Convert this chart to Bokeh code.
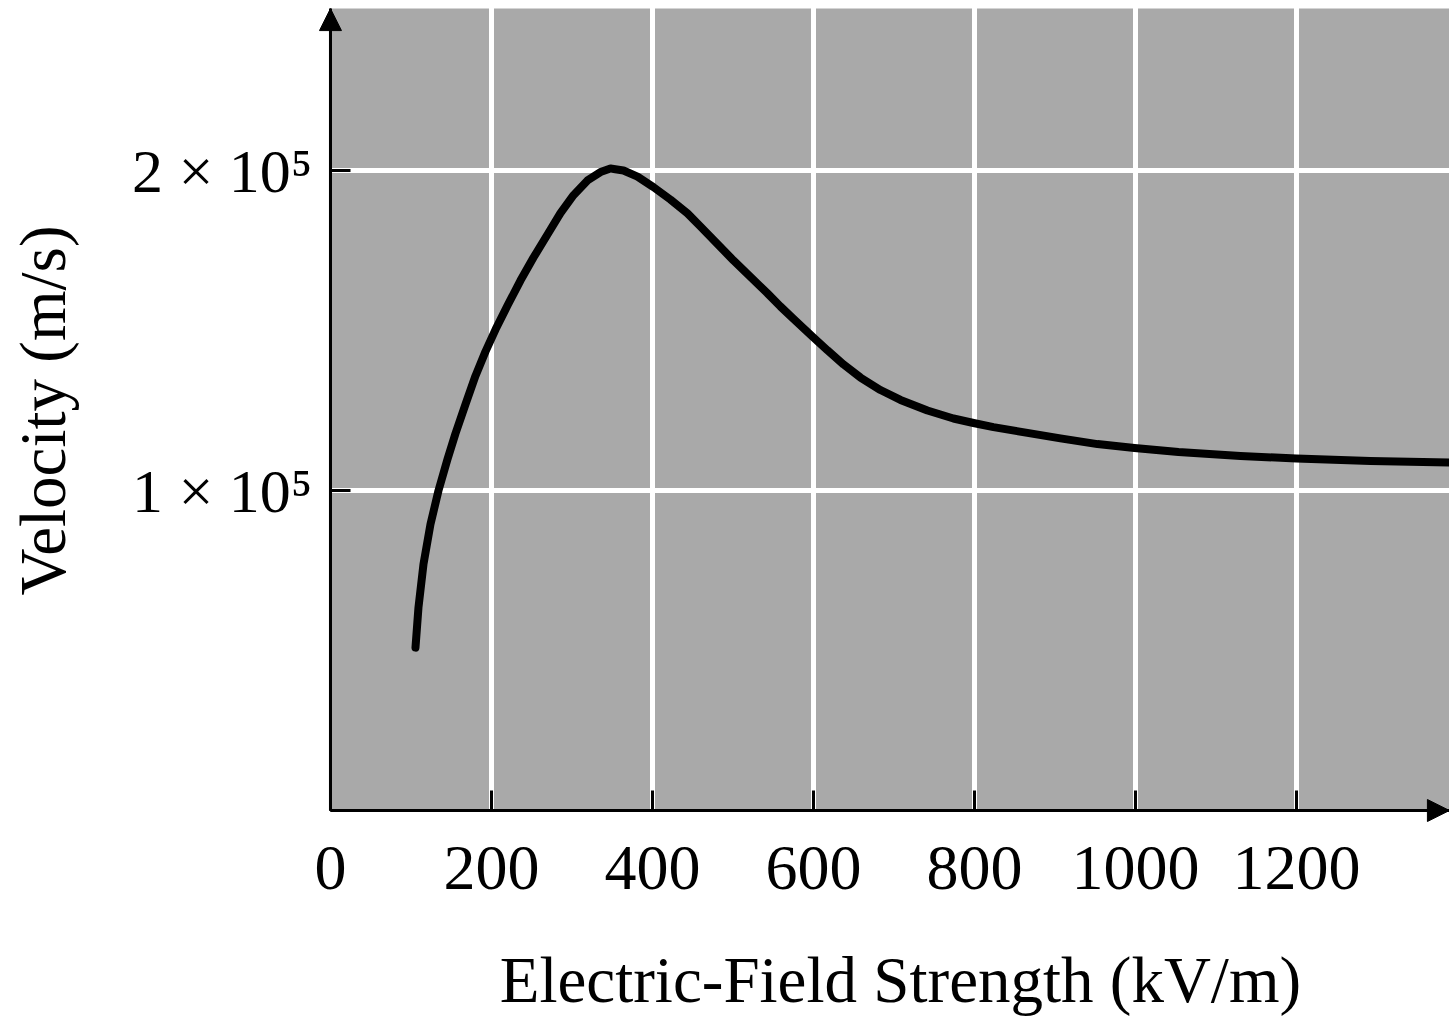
import math
from bokeh.plotting import figure
from bokeh.models import FixedTicker, Arrow, NormalHead, Range1d, BoxAnnotation, Label
from bokeh.embed import file_html
from bokeh.resources import INLINE

# Data (kV/m, m/s)
field_kv_m = [105.6, 109.3, 115.5, 124.2, 134.2, 145.3, 155.3, 167.7, 180.1, 192.5,
              205.0, 219.9, 236.0, 252.2, 269.6, 285.7, 301.9, 319.3, 335.4, 347.8,
              364.0, 381.4, 401.2, 422.4, 443.5, 459.6, 500.6, 542.9, 559.0, 575.2,
              598.8, 617.4, 637.3, 658.4, 683.2, 708.1, 741.6, 773.9, 798.8, 823.6,
              865.8, 906.8, 952.8, 998.8, 1053.4, 1130.4, 1200.0, 1291.9, 1392.0]
velocity_m_s = [50900, 63400, 76900, 89400, 100000, 109700, 117800, 126900, 135800, 143400,
                150300, 157800, 165600, 172800, 180000, 186700, 192300, 196900, 199500, 200600,
                200000, 198100, 194800, 190900, 186600, 182500, 171900, 161600, 157500, 153600,
                148100, 143800, 139400, 135300, 131400, 128300, 125000, 122500, 121100, 119800,
                118000, 116300, 114500, 113300, 112000, 110800, 110000, 109200, 108700]

x_ticks = [0, 200, 400, 600, 800, 1000, 1200]
x_grid = [200, 400, 600, 800, 1000, 1200]
y_ticks = [100000, 200000]
y_tick_labels = {100000: "1 × 10⁵", 200000: "2 × 10⁵"}
x_label = "Electric-Field Strength (kV/m)"
y_label = "Velocity (m/s)"

X_MAX = 1390       # right end of shaded area
Y_MAX = 250600     # top end of shaded area

# view window (whole canvas is the plotting frame; axes sit at the origin)
X_VIEW = (-409.9, 1390.1)
Y_VIEW = (-65312, 253125)

FONT = "Liberation Serif"
X_TICK_SIZE = "64px"
Y_TICK_SIZE = "62px"
LABEL_SIZE = "65px"

p = figure(width=1449, height=1019, output_backend="svg", toolbar_location=None,
           x_range=Range1d(*X_VIEW), y_range=Range1d(*Y_VIEW),
           min_border_left=0, min_border_right=0, min_border_top=0, min_border_bottom=0)

p.background_fill_color = "white"
p.border_fill_color = "white"
p.outline_line_color = None

# shaded plotting area
p.add_layout(BoxAnnotation(left=0, right=X_MAX, bottom=0, top=Y_MAX,
                           fill_color="#a9a9a9", fill_alpha=1.0, line_color=None,
                           level="image"))

# grid
p.xgrid.ticker = FixedTicker(ticks=x_grid)
p.ygrid.ticker = FixedTicker(ticks=y_ticks)
for g in (p.xgrid, p.ygrid):
    g.grid_line_color = "white"
    g.grid_line_width = 5
    g.grid_line_alpha = 1.0
p.xgrid.bounds = (0, Y_MAX)
p.ygrid.bounds = (0, X_MAX)

# axes placed at the origin
p.xaxis.ticker = FixedTicker(ticks=x_ticks)
p.yaxis.ticker = FixedTicker(ticks=y_ticks)
p.yaxis.major_label_overrides = y_tick_labels
p.xaxis.fixed_location = 0
p.yaxis.fixed_location = 0
p.xaxis.bounds = (0, X_MAX)
p.yaxis.bounds = (0, Y_MAX)
for ax in (p.xaxis, p.yaxis):
    ax.axis_line_color = "black"
    ax.axis_line_width = 3
    ax.major_tick_line_color = "black"
    ax.major_tick_line_width = 3
    ax.major_tick_in = 20
    ax.major_tick_out = 0
    ax.minor_tick_line_color = None
    ax.major_label_text_font = FONT
    ax.major_label_text_color = "black"
p.xaxis.major_label_text_font_size = X_TICK_SIZE
p.yaxis.major_label_text_font_size = Y_TICK_SIZE
p.xaxis.major_label_standoff = 36
p.yaxis.major_label_standoff = 18

# axis titles
p.add_layout(Label(x=708, y=-53100, text=x_label, text_align="center",
                   text_baseline="alphabetic", text_font=FONT,
                   text_font_size=LABEL_SIZE, text_color="black"))
p.add_layout(Label(x=-357, y=125000, text=y_label, text_align="center",
                   text_baseline="alphabetic", angle=math.pi / 2, text_font=FONT,
                   text_font_size=LABEL_SIZE, text_color="black"))

# curve
p.line(field_kv_m, velocity_m_s, line_color="black", line_width=8,
       line_cap="round", line_join="round")

# axis arrows
p.add_layout(Arrow(end=NormalHead(size=22, fill_color="black", line_color="black", line_width=1),
                   x_start=0, y_start=0, x_end=0, y_end=Y_MAX,
                   line_color="black", line_width=3))
p.add_layout(Arrow(end=NormalHead(size=22, fill_color="black", line_color="black", line_width=1),
                   x_start=0, y_start=0, x_end=X_MAX, y_end=0,
                   line_color="black", line_width=3))

open("out.html", "w").write(file_html(p, INLINE))
